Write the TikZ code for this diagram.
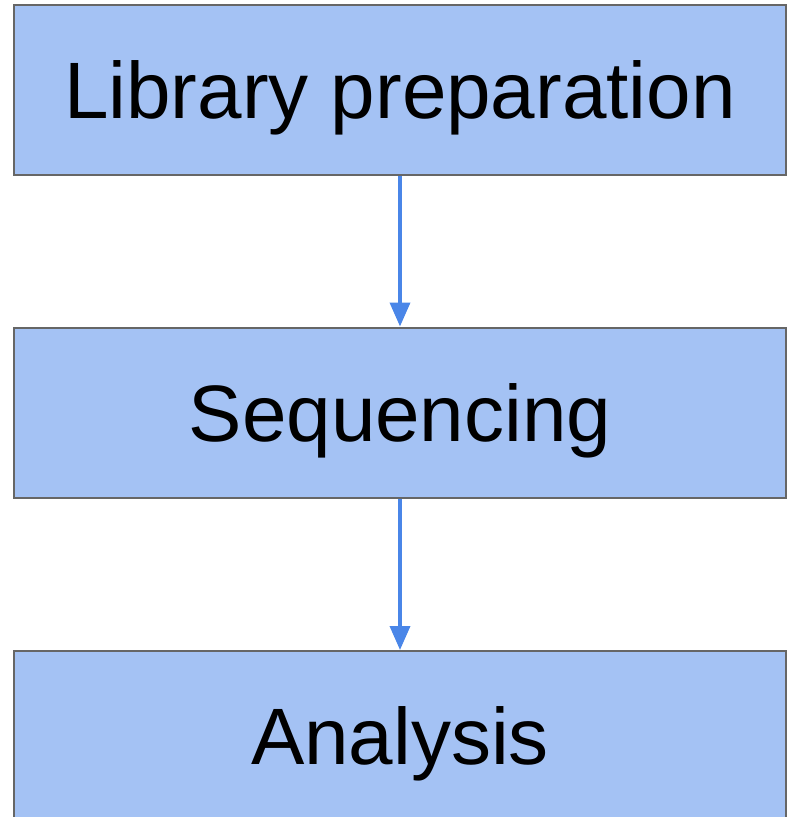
\documentclass[tikz,border=0pt]{standalone}
\usepackage{fontspec}
\setmainfont{Liberation Sans}
\usetikzlibrary{arrows.meta}
\definecolor{boxfill}{HTML}{A4C2F4}
\definecolor{boxline}{HTML}{666666}
\definecolor{flow}{HTML}{4A86E8}
\begin{document}
\begin{tikzpicture}[x=1pt,y=-1pt,
  stage/.style={draw=boxline, line width=2pt, fill=boxfill, minimum width=772pt,
    minimum height=170pt, inner sep=0pt, text depth=0pt,
    font=\fontsize{80}{96}\selectfont},
  link/.style={draw=flow, line width=3.6pt, -{Triangle[width=20pt,length=24pt]}}]
\useasboundingbox (0,0) rectangle (788,817);
\clip (0,0) rectangle (788,817);
\fill[white] (0,0) rectangle (788,817);
\node[stage] (lib) at (400,90) {Library preparation};
\node[stage] (seq) at (400,412.5) {Sequencing};
\node[stage] (ana) at (400,736) {Analysis};
\draw[link] (lib.south) -- (seq.north);
\draw[link] (seq.south) -- (ana.north);
\end{tikzpicture}
\end{document}
